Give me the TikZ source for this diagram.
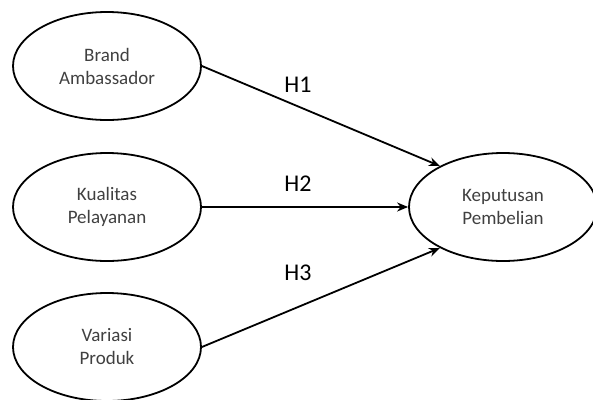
\documentclass[tikz,border=0pt]{standalone}
\usepackage{fontspec}
\setmainfont{Carlito}
\usetikzlibrary{shapes.geometric,arrows.meta}
\definecolor{txtgray}{HTML}{404040}
\tikzset{
  var/.style={ellipse, draw=black, line width=1.8pt, minimum width=188pt, minimum height=108pt,
    inner sep=0pt, align=center, text=txtgray, font=\fontsize{19pt}{23pt}\selectfont},
  arr/.style={line width=1.8pt, -{Stealth[length=11pt,width=9pt]}},
  hl/.style={font=\fontsize{24pt}{28pt}\selectfont, text=black, inner sep=0pt}
}
\begin{document}
\begin{tikzpicture}[x=1pt,y=-1pt]
\useasboundingbox (0,0) rectangle (593,399);
\node[var] (ba) at (107,66) {Brand\\Ambassador};
\node[var] (kp) at (107,207) {Kualitas\\Pelayanan};
\node[var] (vp) at (107,347) {Variasi\\Produk};
\node[var] (kb) at (503,207) {Keputusan\\Pembelian};
\draw[arr] (ba.east) -- (kb.147);
\draw[arr] (kp.east) -- (kb.west);
\draw[arr] (vp.east) -- (kb.213);
\node[hl] (h1) at (298,85) {H1};
\node[hl] (h2) at (298,184) {H2};
\node[hl] (h3) at (298,273) {H3};
\end{tikzpicture}
\end{document}
